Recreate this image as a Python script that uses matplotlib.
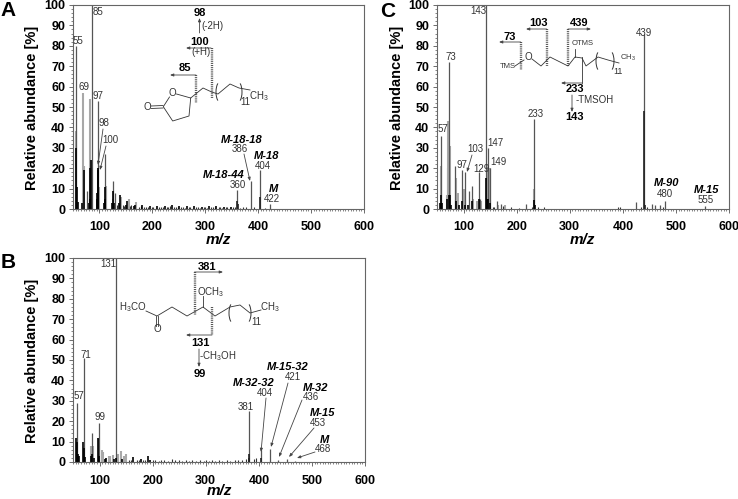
import matplotlib
matplotlib.use("Agg")
import matplotlib.pyplot as plt
from matplotlib.patches import Arc

plt.rcParams['font.family'] = ['Liberation Sans', 'DejaVu Sans']
plt.rcParams['mathtext.fontset'] = 'custom'
plt.rcParams['mathtext.rm'] = 'Liberation Sans'
plt.rcParams['mathtext.default'] = 'rm'

W, H = 738, 499

# peaks, three layers each: thin tall lines, pale wide ones, black base
a_thin_mz = [55, 77, 85, 97, 111, 125, 129]
a_thin_int = [80, 9, 100, 53, 27, 13.5, 8]
a_pale_mz = [56, 69, 71, 83, 84, 98, 99, 112, 113, 126, 141, 155, 169]
a_pale_int = [38, 57, 21, 54, 24, 20, 11, 11.5, 10, 5, 6, 5, 3.5]
a_dark_mz = [55, 57, 60, 67, 70, 81, 82, 83, 84, 95, 96, 97, 98, 109, 110, 111, 123, 125, 127, 137, 139, 151, 153, 165, 167,
             181, 195, 209, 223, 237, 251, 265, 279, 293, 307, 321, 335, 349]
a_dark_int = [30, 11, 3.5, 3, 19, 3, 5, 20, 24, 5, 8, 19, 20, 3, 5, 11, 3, 9, 3, 3, 7, 2, 4, 1.5, 2,
              2, 1.5, 1.5, 1.5, 2, 1.5, 1.5, 1.5, 1, 1.5, 1.5, 1.2, 1]
a_noise_mz = [133, 145, 147, 158, 160, 174, 178, 185, 188, 192, 199, 202, 206, 213, 216, 220, 227, 230, 233, 241, 244,
              248, 255, 258, 262, 269, 272, 276, 283, 286, 290, 297, 300, 304, 311, 314, 318, 325, 328, 332, 339, 342,
              346, 353, 356, 365, 371, 377, 392, 412]
a_noise_int = [2, 2, 1.5, 1.5, 2, 1, 1.5, 1, 1, 0.8, 1.2, 0.8, 0.7, 1, 1, 0.8, 1.2, 1, 1.5, 1.2, 1,
               0.8, 1.2, 1, 0.7, 1, 0.8, 0.7, 1, 1, 0.7, 0.8, 0.8, 0.6, 1, 1, 0.8, 0.8, 0.8, 0.6, 0.8, 1,
               0.6, 1, 1, 0.7, 0.8, 1, 0.8, 0.6]
a_high_mz = [360, 386, 404, 422]
a_high_int = [9.5, 13.5, 19, 2.6]
a_base_mz = [360, 361, 404]
a_base_int = [4, 2.5, 6]

b_thin_mz = [57, 71, 85, 97, 99, 131]
b_thin_int = [29, 51, 14, 12, 19, 100]
b_pale_mz = [83, 87, 105, 107, 117, 120, 125, 135, 141, 147, 149]
b_pale_int = [8, 8, 6, 5, 3, 3, 3.5, 4, 5.5, 3, 4]
b_dark_mz = [55, 57, 59, 61, 69, 71, 73, 83, 85, 89, 97, 99, 111, 113, 127, 131, 143, 163, 178, 192, 195]
b_dark_int = [12, 10, 4, 3, 10, 7, 2.5, 3, 4, 2, 12, 3, 1.5, 2, 1.5, 2, 1.5, 2.5, 1.5, 3, 1]
b_noise_mz = [155, 159, 170, 174, 182, 185, 201, 205, 212, 215, 222, 228, 237, 243, 250, 256, 262, 268, 275, 281, 290,
              296, 300, 306, 312, 318, 325, 331, 340, 346, 355, 361, 368, 375, 390, 395]
b_noise_int = [1, 0.8, 1, 0.8, 1.2, 1, 0.8, 0.8, 0.7, 0.8, 1, 0.7, 1.3, 0.8, 0.8, 0.7, 0.8, 0.7, 0.8, 0.7, 0.8,
               0.7, 0.8, 0.7, 1.2, 0.7, 0.8, 0.7, 0.8, 0.7, 1, 0.8, 1, 1.5, 1.5, 2]
b_high_mz = [381, 404, 421, 436, 453, 468]
b_high_int = [25, 6, 6.5, 1, 1.5, 0.7]
b_base_mz = [381, 382, 405]
b_base_int = [4, 2, 2]

c_thin_mz = [57, 73, 83, 97, 103, 111, 115, 129, 131, 143, 147, 149, 163, 170, 218, 233, 425, 455, 461, 470, 480, 555]
c_thin_int = [36, 72, 21, 19, 18, 9, 11.5, 18, 5, 100, 30, 20, 4, 2.5, 2.5, 44, 3.5, 2.5, 2, 2, 4, 1.5]
c_pale_mz = [57, 68, 70, 71, 75, 85, 89, 101, 117, 125, 133, 147, 149, 165, 178, 233]
c_pale_int = [21, 7, 20, 43, 31, 15, 8, 10, 5, 4, 4, 20, 20, 2, 2, 10]
c_dark_mz = [55, 57, 59, 69, 73, 75, 77, 85, 91, 97, 103, 109, 115, 129, 143, 144, 147, 149, 233, 234]
c_dark_int = [3, 7, 3, 5, 7, 7, 2, 4, 2, 4, 2, 2, 4, 5, 15, 5, 5, 3, 4.5, 2]
c_noise_mz = [155, 158, 175, 190, 205, 229, 240, 251, 390, 395, 435, 445, 475]
c_noise_int = [1, 1, 1.5, 1, 0.7, 1, 1, 1, 1, 1.2, 1, 1.2, 1]
c_high_mz = [439]
c_high_int = [86]
c_base_mz = [439, 441]
c_base_int = [48, 2]

y_ticks = list(range(0, 101, 10))
x_ticks = [100, 200, 300, 400, 500, 600]


def make_panel(box, thin, pale, dark, noise, high, base):
    left, top, right, bottom = box
    ax = fig.add_axes([left / W, 1 - bottom / H, (right - left) / W, (bottom - top) / H])
    ax.vlines(pale[0], 0, pale[1], color="#a8a8a8", lw=1.5)
    ax.vlines(thin[0], 0, thin[1], color="#555555", lw=0.9)
    ax.vlines(high[0], 0, high[1], color="#555555", lw=0.9)
    ax.vlines(noise[0], 0, noise[1], color="#333333", lw=0.8)
    ax.vlines(dark[0], 0, dark[1], color="black", lw=1.2)
    ax.vlines(base[0], 0, base[1], color="#222222", lw=1.2)
    ax.set_xlim(50, 600)
    ax.set_ylim(0, 100)
    ax.set_xticks(x_ticks)
    ax.set_yticks(y_ticks)
    ax.set_xticks(range(50, 601, 5), minor=True)
    ax.set_yticks(range(0, 101, 2), minor=True)
    ax.tick_params(which="major", length=3, width=0.6, color="#555555", pad=6, labelsize=9)
    ax.tick_params(which="minor", length=1.5, width=0.5, color="#555555")
    for lab in ax.get_xticklabels() + ax.get_yticklabels():
        lab.set_fontweight("bold")
    ax.tick_params(axis="y", pad=2.5)
    for s in ax.spines.values():
        s.set_color("#666666")
        s.set_linewidth(0.8)
    ax.patch.set_alpha(0)
    return ax


fig = plt.figure(figsize=(W / 100, H / 100), dpi=100)

make_panel((73, 5, 364, 209), (a_thin_mz, a_thin_int), (a_pale_mz, a_pale_int), (a_dark_mz, a_dark_int),
           (a_noise_mz, a_noise_int), (a_high_mz, a_high_int), (a_base_mz, a_base_int))
make_panel((73, 258, 365, 462), (b_thin_mz, b_thin_int), (b_pale_mz, b_pale_int), (b_dark_mz, b_dark_int),
           (b_noise_mz, b_noise_int), (b_high_mz, b_high_int), (b_base_mz, b_base_int))
make_panel((437, 5, 729, 209), (c_thin_mz, c_thin_int), (c_pale_mz, c_pale_int), (c_dark_mz, c_dark_int),
           (c_noise_mz, c_noise_int), (c_high_mz, c_high_int), (c_base_mz, c_base_int))

# overlay in reference pixels for labels and the structures
ov = fig.add_axes([0, 0, 1, 1])
ov.set_xlim(0, W)
ov.set_ylim(H, 0)
ov.axis("off")
ov.patch.set_alpha(0)


def txt(x, y, s, size=7, color="#333333", **kw):
    ov.text(x, y, s, fontsize=size, color=color, ha="center", va="center", **kw)


def bold(x, y, s):
    txt(x, y, s, size=8, color="black", fontweight="bold")


def mlab(x, y, s):
    txt(x, y, s, size=8, color="black", fontweight="bold", fontstyle="italic")


def arrow(x0, y0, x1, y1, color="#444444"):
    ov.annotate("", xy=(x1, y1), xytext=(x0, y0),
                arrowprops=dict(arrowstyle="-|>,head_length=0.2,head_width=0.08", color=color, lw=0.6,
                                shrinkA=0, shrinkB=0))


def bonds(xs, ys):
    ov.plot(xs, ys, color="#333333", lw=0.6, solid_joinstyle="miter")


def cut(x, y0, y1):
    ov.plot([x, x], [y0, y1], color="#555555", lw=1.7, ls=(0, (0.45, 0.45)))


def paren(x, y, left=True):
    # thin curved bracket around the repeating chain
    cx = x + 5 if left else x - 5
    t0, t1 = (110, 250) if left else (-70, 70)
    ov.add_patch(Arc((cx, y), 10, 22, theta1=t0, theta2=t1, color="#333333", lw=0.7))


for x, y, s in [(8, 10, "A"), (8, 263, "B"), (388, 11, "C")]:
    txt(x, y, s, size=15, color="black", fontweight="bold")
for x, y in [(32, 108), (32, 361), (397, 108)]:
    txt(x, y, "Relative abundance [%]", size=10.5, color="black", fontweight="bold", rotation=90)
for x, y in [(218, 240), (219, 491), (582, 240)]:
    txt(x, y, "m/z", size=11, color="black", fontweight="bold", fontstyle="italic")

# panel A labels
for x, y, s in [(78, 41, "55"), (98, 12, "85"), (84, 87, "69"), (98, 96, "97"), (104, 123, "98"), (110, 140, "100"),
                (240, 149, "386"), (263, 166, "404"), (238, 185, "360"), (272, 199, "422")]:
    txt(x, y, s)
for x, y, s in [(242, 140, "M-18-18"), (267, 156, "M-18"), (224, 175, "M-18-44"), (273, 189, "M")]:
    mlab(x, y, s)
arrow(103, 129, 98, 165)
arrow(106, 146, 100, 170)
arrow(244, 154, 250, 181)

# panel A structure
bold(200, 13, "98")
arrow(199.5, 33, 199.5, 18)
txt(212, 26, "(-2H)")
bold(200, 42, "100")
arrow(211, 48, 186, 48)
txt(201, 52, "(+H)")
cut(211.5, 48, 98)
bold(185, 68, "85")
arrow(196, 75, 170, 75)
cut(196, 75, 103)
txt(172.7, 92.5, "O")
txt(147, 107, "O")
bonds([176.5, 190.7, 189, 172.7, 163.3, 169.5], [94, 98, 116, 121, 106.7, 97])
bonds([151, 163], [106, 105.5])
bonds([151, 163], [108.5, 108])
bonds([190.7, 203, 211.7, 218, 230, 239, 250], [98, 88, 92, 94, 84, 88, 90])
paren(216, 92)
paren(242, 92, left=False)
txt(245, 102, "11")
txt(259, 96, "CH$_3$")

# panel B labels
for x, y, s in [(108, 264, "131"), (86, 355, "71"), (79, 396, "57"), (100, 417, "99"), (246, 407, "381"),
                (265, 393, "404"), (293, 377, "421"), (311, 397, "436"), (318, 423, "453"), (323, 449, "468")]:
    txt(x, y, s)
for x, y, s in [(254, 383, "M-32-32"), (288, 367, "M-15-32"), (316, 388, "M-32"), (323, 413, "M-15"), (324, 440, "M")]:
    mlab(x, y, s)
arrow(266, 398, 261, 452)
arrow(288, 383, 271, 447)
arrow(302, 400, 279, 457)
arrow(314, 428, 289, 457)
arrow(315, 452, 297, 458)

# panel B structure
txt(133, 307, "H$_3$CO")
bonds([146, 157, 172, 187, 203, 215, 230, 240, 250, 261], [311, 316, 307, 316, 307, 316, 307, 305, 313, 310])
bonds([155.8, 155.8], [316, 326])
bonds([158.2, 158.2], [316, 326])
txt(157, 329.5, "O")
bonds([203, 203], [307, 296])
txt(211, 292, "OCH$_3$")
bold(207, 267, "381")
arrow(194.5, 272, 223, 272)
cut(194.5, 272, 315)
cut(212, 307, 335)
arrow(212, 335, 186, 335)
bold(200, 343, "131")
arrow(199, 349, 199, 367)
txt(218, 356, "-CH$_3$OH")
bold(200, 374, "99")
paren(229, 313)
paren(251, 313, left=False)
txt(256, 322, "11")
txt(270, 307, "CH$_3$")

# panel C labels
for x, y, s in [(478, 11, "143"), (451, 57, "73"), (443, 129, "57"), (536, 114, "233"), (495, 143, "147"),
                (498, 162, "149"), (475, 149, "103"), (462, 165, "97"), (481, 169, "129"), (644, 33, "439"),
                (665, 194, "480"), (706, 200, "555")]:
    txt(x, y, s)
mlab(667, 183, "M-90")
mlab(707, 190, "M-15")
arrow(472, 155, 467, 172)

# panel C structure
bold(510, 37, "73")
cut(520.7, 42, 70)
arrow(520.7, 42, 499, 42)
bold(538, 23, "103")
cut(546.7, 29, 66)
arrow(546.7, 29, 526, 29)
bold(579, 23, "439")
cut(568, 29, 66)
arrow(568, 29, 591, 29)
txt(508, 66, "TMS", size=5.5)
txt(528, 57, "O")
bonds([515, 524], [66, 60])
bonds([532, 541, 550, 568, 575, 582, 586, 598, 608, 619], [59, 66, 57, 66, 57, 58, 66, 57, 60, 63])
bonds([575, 575], [57, 49])
txt(583, 43, "OTMS", size=5.5)
bonds([582, 582], [57, 83])
arrow(582, 83, 561, 83)
bold(575, 89, "233")
arrow(572, 95, 572, 112)
txt(595, 100, "-TMSOH")
bold(575, 117, "143")
paren(596, 61)
paren(614, 61, left=False)
txt(618, 71, "11", size=6.5)
txt(628, 58, "CH$_3$", size=5.5)

fig.savefig("out.png", dpi=100)
